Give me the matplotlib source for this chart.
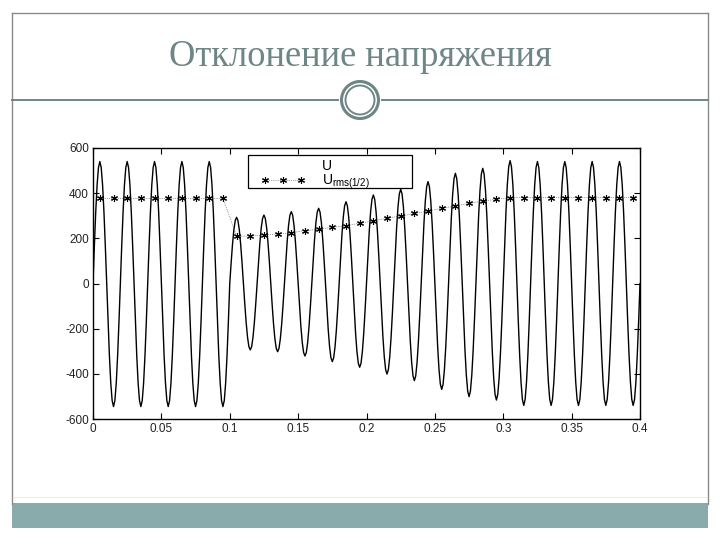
import numpy as np
import matplotlib
matplotlib.use("Agg")
import matplotlib.pyplot as plt
from matplotlib.lines import Line2D
from matplotlib.patches import Rectangle, Circle

plt.rcParams["axes.unicode_minus"] = False

# ---------------- data ----------------
title = "Отклонение напряжения"
f_grid = 50.0          # Hz
t_end = 0.4            # s
# peak amplitude of each half-cycle (V), half-cycles centred at 0.005 + 0.01*k
half_cycle_peaks = [540, 545, 540, 545, 540, 545, 540, 545, 540, 545,
                    293, 294, 303, 302, 318, 321, 333, 346, 362, 371,
                    392, 401, 417, 430, 451, 469, 488, 501, 510, 516,
                    544, 540, 540, 540, 540, 540, 540, 540, 540, 540]
# half-period RMS values (stars)
u_rms_half = [377, 377, 377, 377, 377, 377, 377, 377, 377, 377,
              210, 210, 215, 219, 225, 234, 240, 249, 256, 267,
              277, 289, 299, 310, 321, 333, 343, 355, 365, 373,
              380, 380, 380, 380, 380, 380, 380, 380, 380, 380]
x_ticks = [0, 0.05, 0.1, 0.15, 0.2, 0.25, 0.3, 0.35, 0.4]
x_ticklabels = ["0", "0.05", "0.1", "0.15", "0.2", "0.25", "0.3", "0.35", "0.4"]
y_ticks = [-600, -400, -200, 0, 200, 400, 600]
legend_labels = ["U", r"U$_{\mathregular{rms(1/2)}}$"]

# ---------------- derived series ----------------
half = 1.0 / (2 * f_grid)
t = np.arange(0, t_end + 1e-9, 0.001)
idx = np.clip((t / half).astype(int), 0, len(half_cycle_peaks) - 1)
amp = np.array(half_cycle_peaks, dtype=float)[idx]
u = amp * np.sin(2 * np.pi * f_grid * t)
t_rms = half / 2 + half * np.arange(len(u_rms_half))

# ---------------- figure / slide ----------------
W, H = 720, 540
fig = plt.figure(figsize=(7.2, 5.4), dpi=100)
bg = fig.add_axes([0, 0, 1, 1], zorder=0)
bg.set_xlim(0, W)
bg.set_ylim(H, 0)
bg.axis("off")

frame_col = "#8a8a8a"
teal = "#6f8686"
# outer frame
bg.plot([12, 708], [13, 13], color=frame_col, lw=1.0)
bg.plot([12, 12], [13, 504], color=frame_col, lw=1.0)
bg.plot([708, 708], [13, 504], color=frame_col, lw=1.0)
# bottom teal bar
bg.add_patch(Rectangle((12, 503), 696, 25, facecolor="#8aabab", edgecolor="none"))
bg.plot([14, 706], [497, 497], color="#e6eeee", lw=0.8)
# title
bg.text(360, 57, title, ha="center", va="center", fontsize=26.3,
        family="Liberation Serif", color=teal)
# separator with ornament
bg.plot([12, 338], [100, 100], color=teal, lw=1.4)
bg.plot([382, 708], [100, 100], color=teal, lw=1.4)
bg.add_patch(Circle((360, 100), 18.5, fill=False, edgecolor=teal, lw=2.2))
bg.add_patch(Circle((360, 100), 14.5, fill=False, edgecolor=teal, lw=1.4))

# ---------------- chart ----------------
ax = fig.add_axes([93 / W, 1 - 419 / H, 547 / W, 271 / H], zorder=2)
ax.plot(t, u, color="black", lw=1.0)
ax.plot(t_rms, u_rms_half, color="#444444", ls=":", lw=0.5,
        marker=(6, 2, 0), markersize=5, markeredgewidth=0.8,
        markeredgecolor="black")
ax.set_xlim(0, 0.4)
ax.set_ylim(-600, 600)
ax.set_xticks(x_ticks)
ax.set_xticklabels(x_ticklabels)
ax.set_yticks(y_ticks)
ax.tick_params(direction="in", length=4, width=0.8, top=True, right=True,
               labelsize=8.5, labelcolor="#222222", pad=3)
for lab in ax.get_xticklabels() + ax.get_yticklabels():
    lab.set_family("Liberation Sans")
for s in ax.spines.values():
    s.set_linewidth(1.0)

# legend
x0 = (248 - 93) / 547
x1 = (412 - 93) / 547
y1 = (419 - 155) / 271
y0 = (419 - 188) / 271
ax.add_patch(Rectangle((x0, y0), x1 - x0, y1 - y0, transform=ax.transAxes,
                       facecolor="white", edgecolor="black", lw=0.9, zorder=5))
handles = [Line2D([], [], color="none"),
           Line2D([], [], color="#444444", ls=":", lw=0.5, marker=(6, 2, 0),
                  markersize=5, markeredgewidth=0.8, markeredgecolor="black")]
leg = ax.legend(handles, legend_labels, loc="upper left",
                bbox_to_anchor=(x0 + 0.005, y1 + 0.02), frameon=False,
                handlelength=3.2, handletextpad=1.2,
                labelspacing=-0.05, borderpad=0.2, numpoints=3,
                prop={"family": "Liberation Sans", "size": 10})
leg.set_zorder(6)

fig.savefig("out.png", dpi=100)
